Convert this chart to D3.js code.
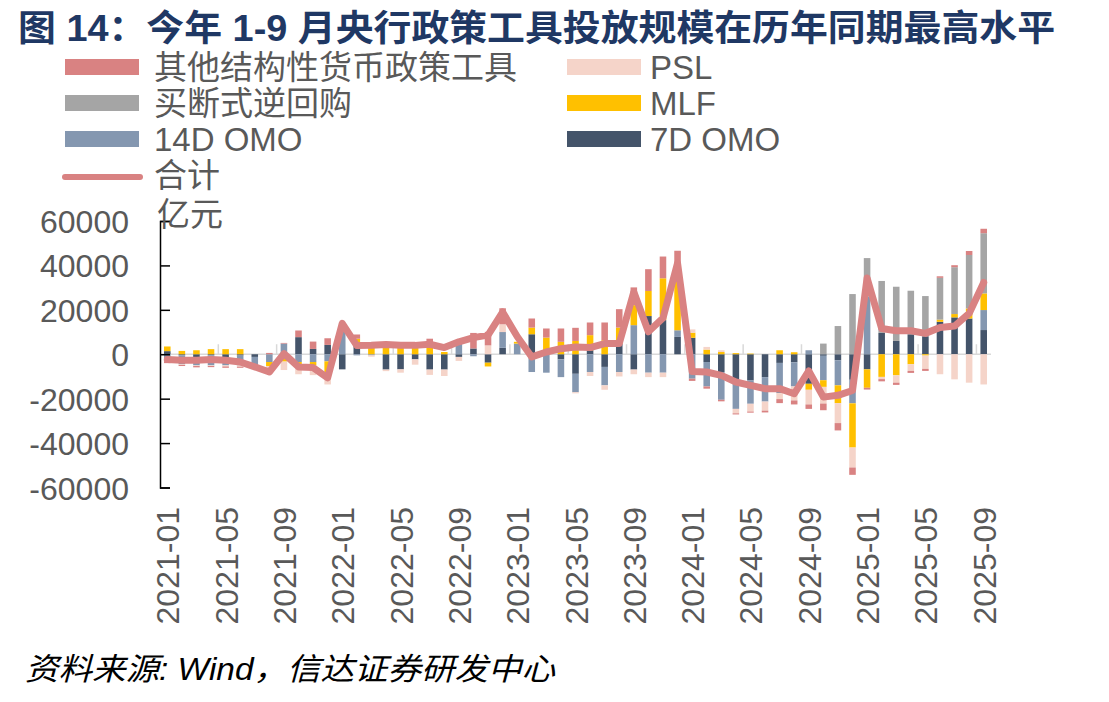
<!DOCTYPE html>
<html>
<head>
<meta charset="utf-8">
<script src="https://cdn.jsdelivr.net/npm/d3@7/dist/d3.min.js"></script>
<style>
  body { margin: 0; background: #fff; }
  svg text { font-family: "Liberation Sans", Arial, "Noto Sans CJK SC", sans-serif; }
</style>
</head>
<body>
<div id="chart"></div>
<script>
'use strict';

const months = [
  '2021-01','2021-02','2021-03','2021-04','2021-05','2021-06','2021-07','2021-08','2021-09','2021-10','2021-11','2021-12',
  '2022-01','2022-02','2022-03','2022-04','2022-05','2022-06','2022-07','2022-08','2022-09','2022-10','2022-11','2022-12',
  '2023-01','2023-02','2023-03','2023-04','2023-05','2023-06','2023-07','2023-08','2023-09','2023-10','2023-11','2023-12',
  '2024-01','2024-02','2024-03','2024-04','2024-05','2024-06','2024-07','2024-08','2024-09','2024-10','2024-11','2024-12',
  '2025-01','2025-02','2025-03','2025-04','2025-05','2025-06','2025-07','2025-08','2025-09'
];

// 亿元
const omo7 = [
  1400, -500, -1500, -500, -1500, -600, -1200, 0, -1800, 7700, 2400, 4200,
  -6800, 4800, 0, -6900, -6800, -2300, -6900, -6900, -1200, 2600, -3800, 2900,
  0, 9000, 0, -2300, -8800, 1800, -5700, 4800, -6900, 17200, 15400, 7800,
  7400, -3500, -8000, -11800, -11800, -10300, -3900, -3600, -13300, -700, -2700, -11500,
  -6800, 9600, 6000, 9000, 8100, 14600, 16600, 16100, 10900
];
const omo14 = [
  -3200, -4000, -3500, -4500, -3500, -4400, -3900, -3500, 4800, -3500, -3500, -3200,
  13900, -500, -500, 0, 0, 0, 0, 0, 4800, -900, 0, 7100,
  4800, -8000, -8300, -8000, -8300, -8000, -8300, -8000, 13100, -8300, -8300, 3000,
  -11000, -11000, -12500, -12800, -10500, -11000, -13600, -10900, 1800, -11000, -11300, -10600,
  26000, 0, 0, 0, 0, 0, 0, 0, 9000
];
const mlf = [
  2100, 1500, 1800, 2300, 2300, 2300, 0, -1800, -1500, -1000, -1500, -5600,
  0, 2200, 4000, 4000, 4000, 4000, 5000, 1000, 0, 0, -1700, 0,
  800, 3000, 7500, 5600, 6000, 6800, 6300, 7200, 9000, 11300, 18800, 24000,
  2300, 2100, 1000, 500, 300, 0, 1800, 900, -2700, -3000, -8000, -19900,
  -8300, -10200, -9500, -4500, -600, 1000, 1500, 4500, 7500
];
const outright = [
  0, 0, 0, 0, 0, 0, 0, 0, 0, 0, 0, 0,
  0, 0, 0, 0, 0, 0, 0, 0, 0, 0, 0, 0,
  0, 0, 0, 0, 0, 0, 0, 0, 0, 0, 0, 0,
  0, 0, 0, 0, 0, 0, 0, 0, 0, 4800, 12700, 27100,
  17300, 23400, 24400, 19600, 18100, 18800, 21100, 24100, 27100
];
const psl = [
  0, -300, -300, -300, -500, -600, 0, -1500, -3800, -4500, -4400, -4800,
  0, 0, -600, -700, -1500, -2400, -2400, -2900, -1800, 0, 4000, 3500,
  0, 0, 0, 0, -500, -1800, -2000, -2000, -2100, -2000, -2000, 0,
  1500, 1200, 800, -2000, -3500, -4100, -2700, -6300, -6600, -7500, -9000, -9000,
  0, -1000, -3300, -3000, -6000, -9000, -11300, -12800, -13600
];
const otherTools = [
  -800, -500, -600, -500, -600, -500, 0, 600, 300, 3000, 3300, 3000,
  0, 1900, 0, 0, 0, 0, 2000, 0, 0, 7000, 6100, 7200,
  0, 4100, 4100, 6000, 5900, 5700, 8000, 8300, 8000, 9800, 9800, 11800,
  -1000, -1000, -700, -500, -500, -800, -1800, -1800, -2000, -3000, -3300, -3300,
  -800, -1000, -1000, -900, -900, 700, 900, 1800, 2000
];
const total = [
  -2400, -2700, -2700, -2400, -2700, -3500, -5700, -8000, 300, -5700, -6000, -10600,
  13900, 3900, 4000, 4400, 4000, 4000, 4500, 3000, 5600, 7500, 8600, 19000,
  8000, -1200, 1000, 2500, 3300, 3000, 4800, 4800, 28000, 10100, 16300, 41000,
  -7800, -8000, -9500, -12500, -14000, -15500, -15500, -17800, -7500, -19300, -18500, -16300,
  34300, 11600, 10600, 10600, 9400, 12000, 12700, 18400, 32300
];

const yTicks = [60000, 40000, 20000, 0, -20000, -40000, -60000];

// stack order bottom -> top
const seriesKeys = ['omo7', 'omo14', 'mlf', 'outright', 'psl', 'other'];
const seriesColors = {
  omo7: '#44546a', omo14: '#8497b0', mlf: '#ffc000',
  outright: '#a5a5a5', psl: '#f5d4c9', other: '#d98282'
};
const legendItems = [
  { key: 'other', label: '其他结构性货币政策工具', col: 0, row: 0 },
  { key: 'psl', label: 'PSL', col: 1, row: 0 },
  { key: 'outright', label: '买断式逆回购', col: 0, row: 1 },
  { key: 'mlf', label: 'MLF', col: 1, row: 1 },
  { key: 'omo14', label: '14D OMO', col: 0, row: 2 },
  { key: 'omo7', label: '7D OMO', col: 1, row: 2 },
  { key: 'total', label: '合计', col: 0, row: 3 }
];

const rows = months.map(function (m, i) {
  return {
    month: m, omo7: omo7[i], omo14: omo14[i], mlf: mlf[i],
    outright: outright[i], psl: psl[i], other: otherTools[i], total: total[i]
  };
});

const width = 1109, height = 702;
const plot = { left: 160, right: 991, top: 221, bottom: 487.5 };
const textColor = '#595959';

const svg = d3.select('#chart').append('svg')
  .attr('width', width)
  .attr('height', height);

// title
svg.append('text')
  .attr('x', 18)
  .attr('y', 41)
  .attr('textLength', 1037)
  .attr('lengthAdjust', 'spacingAndGlyphs')
  .style('font-size', '36px')
  .style('font-weight', 'bold')
  .style('fill', '#1f3864')
  .text('图  14：今年 1-9 月央行政策工具投放规模在历年同期最高水平');

// legend
const legend = svg.append('g');
legendItems.forEach(function (d) {
  const lx = d.col === 0 ? 65 : 567;
  const ly = 67 + d.row * 36;
  if (d.key === 'total') {
    legend.append('line')
      .attr('x1', lx).attr('x2', lx + 75)
      .attr('y1', ly + 2).attr('y2', ly + 2)
      .attr('stroke', seriesColors.other)
      .attr('stroke-width', 6)
      .attr('stroke-linecap', 'round');
  } else {
    legend.append('rect')
      .attr('x', lx).attr('y', ly - 8)
      .attr('width', 74).attr('height', 16)
      .attr('fill', seriesColors[d.key]);
  }
  legend.append('text')
    .attr('x', d.col === 0 ? lx + 89 : lx + 83)
    .attr('y', ly + 12)
    .style('font-size', '33px')
    .style('fill', textColor)
    .text(d.label);
});

const x = d3.scaleBand()
  .domain(months)
  .range([plot.left, plot.right])
  .paddingInner(0.55)
  .paddingOuter(0.275);

const y = d3.scaleLinear()
  .domain([-60000, 60000])
  .range([plot.bottom, plot.top]);

const stack = d3.stack()
  .keys(seriesKeys)
  .offset(d3.stackOffsetDiverging);
const stacked = stack(rows);

// zero axis line
svg.append('line')
  .attr('x1', plot.left).attr('x2', plot.right)
  .attr('y1', y(0)).attr('y2', y(0))
  .attr('stroke', '#d9d9d9')
  .attr('stroke-width', 1.5);

// category tick marks every 4 months
const tickIdx = months.map(function (m, i) { return i; }).filter(function (i) { return i > 0 && i % 4 === 0; });
svg.append('g').selectAll('line')
  .data(tickIdx)
  .enter().append('line')
  .attr('x1', function (i) { return x(months[i]) - x.step() * 0.275; })
  .attr('x2', function (i) { return x(months[i]) - x.step() * 0.275; })
  .attr('y1', y(0) - 10)
  .attr('y2', y(0))
  .attr('stroke', '#d9d9d9')
  .attr('stroke-width', 1.5);

// bars
svg.append('g').selectAll('g')
  .data(stacked)
  .enter().append('g')
  .attr('fill', function (s) { return seriesColors[s.key]; })
  .selectAll('rect')
  .data(function (s) { return s; })
  .enter().append('rect')
  .attr('x', function (d) { return x(d.data.month); })
  .attr('width', x.bandwidth())
  .attr('y', function (d) { return y(Math.max(d[0], d[1])); })
  .attr('height', function (d) { return Math.abs(y(d[0]) - y(d[1])); });

// total line
const lineGen = d3.line()
  .x(function (d) { return x(d.month) + x.bandwidth() / 2; })
  .y(function (d) { return y(d.total); });

svg.append('path')
  .datum(rows)
  .attr('d', lineGen)
  .attr('fill', 'none')
  .attr('stroke', '#d98282')
  .attr('stroke-width', 7)
  .attr('stroke-linejoin', 'round')
  .attr('stroke-linecap', 'round');

// y axis
const yAxis = d3.axisRight(y)
  .tickValues(yTicks)
  .tickSize(10)
  .tickFormat('');
const yAxisG = svg.append('g')
  .attr('transform', 'translate(' + plot.left + ',0)')
  .call(yAxis);
yAxisG.select('.domain').attr('stroke', '#000').attr('stroke-width', 1.5);
yAxisG.selectAll('.tick line').attr('stroke', '#000').attr('stroke-width', 1.5);

svg.append('g').selectAll('text')
  .data(yTicks)
  .enter().append('text')
  .attr('x', 129)
  .attr('y', function (d) { return y(d) + 12; })
  .attr('text-anchor', 'end')
  .style('font-size', '32px')
  .style('fill', textColor)
  .text(function (d) { return d; });

// unit label
svg.append('text')
  .attr('x', 157)
  .attr('y', 226)
  .style('font-size', '33px')
  .style('fill', textColor)
  .text('亿元');

// x labels
const labelIdx = months.map(function (m, i) { return i; }).filter(function (i) { return i % 4 === 0; });
svg.append('g').selectAll('text')
  .data(labelIdx)
  .enter().append('text')
  .attr('transform', function (i) {
    const cx = x(months[i]) + x.bandwidth() / 2 + 12;
    return 'translate(' + cx + ',507) rotate(-90)';
  })
  .attr('text-anchor', 'end')
  .style('font-size', '32px')
  .style('fill', textColor)
  .text(function (i) { return months[i]; });

// source
svg.append('text')
  .attr('x', 25)
  .attr('y', 680)
  .attr('textLength', 530)
  .attr('lengthAdjust', 'spacingAndGlyphs')
  .style('font-size', '31px')
  .style('font-style', 'italic')
  .style('fill', '#000')
  .text('资料来源: Wind，信达证券研发中心');
</script>
</body>
</html>
